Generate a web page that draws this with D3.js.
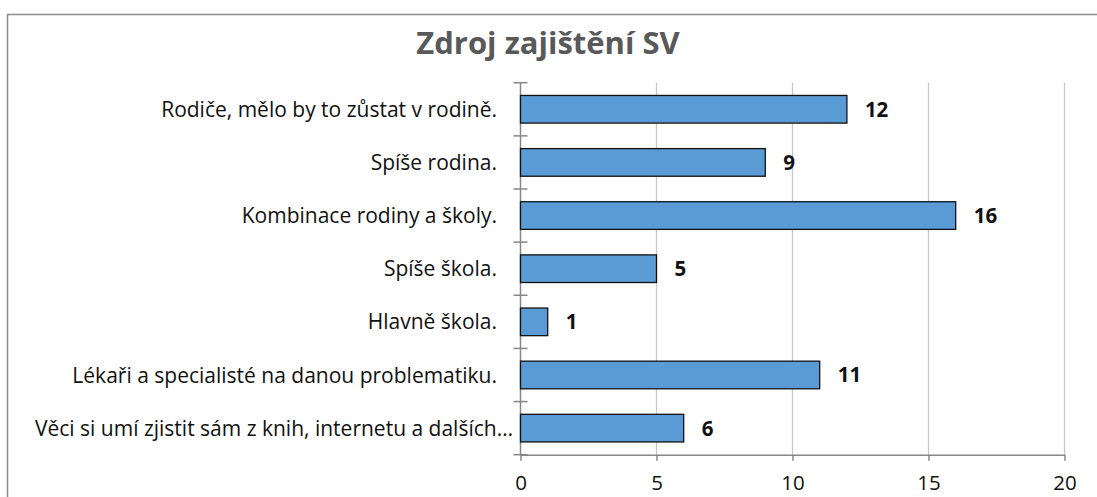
<!DOCTYPE html>
<html><head><meta charset="utf-8">
<script src="https://cdn.jsdelivr.net/npm/d3@7"></script>
<style>body{margin:0;background:#fff}svg{display:block}</style>
</head><body>
<svg id="c" width="1097" height="497"></svg>
<script>
const title = "Zdroj zajištění SV";
const categories = [
  "Rodiče, mělo by to zůstat v rodině.",
  "Spíše rodina.",
  "Kombinace rodiny a školy.",
  "Spíše škola.",
  "Hlavně škola.",
  "Lékaři a specialisté na danou problematiku.",
  "Věci si umí zjistit sám z knih, internetu a dalších…"
];
const values = [12, 9, 16, 5, 1, 11, 6];
const xTicks = [0, 5, 10, 15, 20];

const font = "'Open Sans', 'Noto Sans', sans-serif";
const svg = d3.select("#c");
const L = 520.5, R = 1064.5, T = 82.7, B = 454.7;

svg.append("rect").attr("x", 7.5).attr("y", 14.5).attr("width", 1200).attr("height", 600)
  .attr("fill", "#fff").attr("stroke", "#8c8c8c").attr("stroke-width", 1.5);

const x = d3.scaleLinear().domain([0, 20]).range([L, R]);
const y = d3.scaleBand().domain(categories).range([T, B]).paddingInner(0.48).paddingOuter(0.24);

// gridlines
svg.append("g").selectAll("line").data(xTicks.slice(1)).join("line")
  .attr("x1", d => x(d)).attr("x2", d => x(d)).attr("y1", T).attr("y2", B)
  .attr("stroke", "#c8c8c8").attr("stroke-width", 1.3);

// bottom axis
const xa = svg.append("g").attr("transform", `translate(0,${B})`)
  .call(d3.axisBottom(x).tickValues(xTicks).tickSize(6).tickPadding(15).tickSizeOuter(0));
xa.select(".domain").attr("stroke", "#868686").attr("stroke-width", 1.5);
xa.selectAll(".tick line").attr("stroke", "#868686").attr("stroke-width", 1.5);
xa.selectAll("text").attr("font-family", font).attr("font-size", 20.5).attr("fill", "#111");

// left axis line with crossing ticks
const bounds = d3.range(categories.length + 1).map(i => T + i * (B - T) / categories.length);
svg.append("line").attr("x1", L).attr("x2", L).attr("y1", T).attr("y2", B)
  .attr("stroke", "#868686").attr("stroke-width", 1.5);
svg.append("g").selectAll("line").data(bounds).join("line")
  .attr("x1", L - 7).attr("x2", L + 7).attr("y1", d => d).attr("y2", d => d)
  .attr("stroke", "#868686").attr("stroke-width", 1.5);

// bars
svg.append("g").selectAll("rect").data(values).join("rect")
  .attr("x", x(0)).attr("y", (d, i) => y(categories[i]))
  .attr("width", d => x(d) - x(0)).attr("height", y.bandwidth())
  .attr("fill", "#5b9bd5").attr("stroke", "#111").attr("stroke-width", 1.3);

// value labels
svg.append("g").selectAll("text").data(values).join("text")
  .attr("x", d => x(d) + 18).attr("y", (d, i) => y(categories[i]) + y.bandwidth() / 2)
  .attr("dy", "0.36em").attr("font-family", font).attr("font-weight", "bold")
  .attr("font-size", 20.5).attr("fill", "#111").text(d => d);

// category labels
svg.append("g").selectAll("text").data(categories).join("text")
  .attr("x", d => d.endsWith("…") ? L - 7.5 : L - 23.5)
  .attr("y", d => y(d) + y.bandwidth() / 2).attr("dy", "0.36em")
  .attr("text-anchor", "end").attr("font-family", font).attr("font-size", 21)
  .attr("fill", "#111").text(d => d);

// title
svg.append("text").attr("x", 548).attr("y", 54).attr("text-anchor", "middle")
  .attr("font-family", font).attr("font-weight", "bold").attr("font-size", 31)
  .attr("fill", "#595959").text(title);
</script>
</body></html>
